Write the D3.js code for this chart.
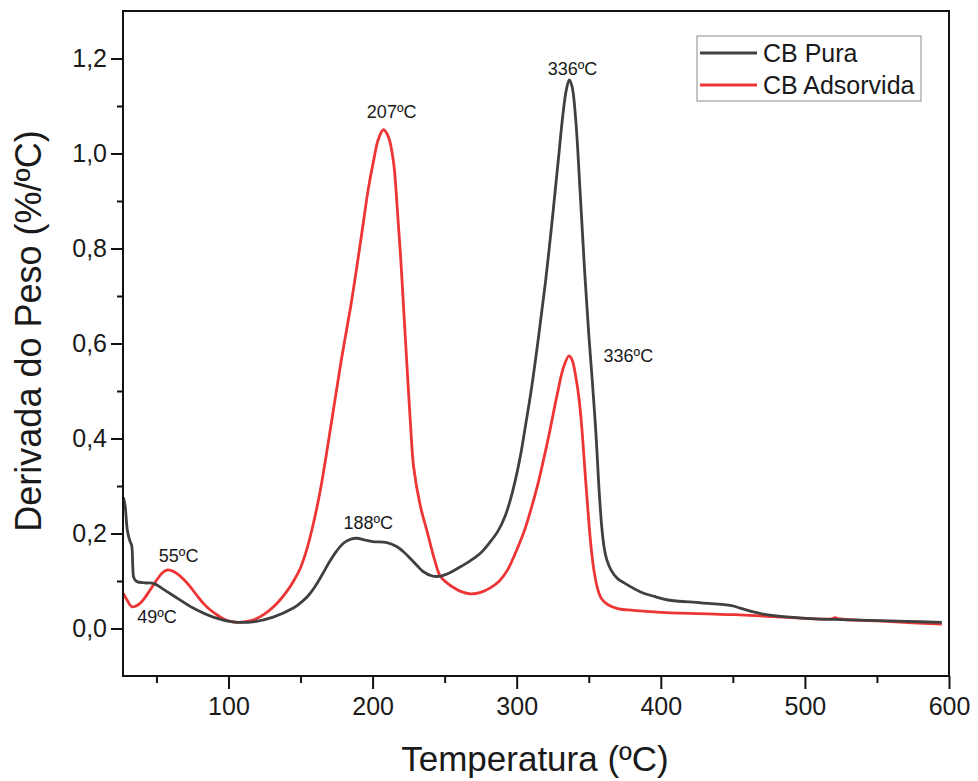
<!DOCTYPE html>
<html>
<head>
<meta charset="utf-8">
<script src="https://cdn.jsdelivr.net/npm/d3@7"></script>
<style>
  body { margin: 0; background: #fff; }
  svg text { font-family: "Liberation Sans", Arial, sans-serif; fill: #1a1a1a; }
</style>
</head>
<body>
<div id="chart"></div>
<script>
//Data
const tempPura = [27, 28.2, 29.8, 31.5, 32.8, 33.6, 34.2, 36.3, 42, 48, 54.6, 64.4, 75.5, 89.4, 103, 117, 131, 145, 150, 155, 160, 165, 170, 175, 180, 185, 189, 195, 200, 210, 217, 222, 226, 231, 235, 242, 248, 254, 261, 268, 275, 281, 287, 292, 296, 300, 303, 306, 310, 315, 320, 325, 329, 332, 334.5, 336.5, 338.5, 341, 344, 347, 350, 352.5, 355, 357, 359, 360.6, 362.5, 365.5, 370, 374.5, 386, 395, 405, 428, 449, 455, 462.8, 470, 478.8, 497.6, 520, 544, 570, 595];
const derivPura = [0.276, 0.26, 0.207, 0.185, 0.175, 0.13, 0.108, 0.099, 0.096, 0.095, 0.083, 0.064, 0.043, 0.024, 0.014, 0.014, 0.024, 0.043, 0.054, 0.068, 0.088, 0.113, 0.14, 0.163, 0.18, 0.188, 0.19, 0.186, 0.183, 0.181, 0.172, 0.16, 0.148, 0.132, 0.12, 0.11, 0.111, 0.118, 0.13, 0.143, 0.159, 0.18, 0.205, 0.237, 0.275, 0.325, 0.37, 0.425, 0.5, 0.61, 0.73, 0.87, 0.99, 1.08, 1.135, 1.155, 1.14, 1.07, 0.92, 0.76, 0.62, 0.52, 0.41, 0.3, 0.215, 0.172, 0.145, 0.123, 0.105, 0.096, 0.077, 0.068, 0.06, 0.054, 0.048, 0.043, 0.036, 0.031, 0.027, 0.022, 0.019, 0.017, 0.015, 0.013];

const tempAds = [27, 30, 32.8, 35.5, 38.6, 42, 45.6, 50.2, 54, 57.2, 60.5, 64.1, 69, 73.4, 78, 82.6, 87, 91.9, 96, 101.2, 107, 112.8, 118, 122.1, 128, 133.7, 140, 145.2, 150, 154.5, 159, 163.8, 168, 172.8, 178, 184.7, 189, 193.7, 197, 200.7, 204, 207.5, 211, 214.6, 217, 219.4, 222, 224.3, 226.5, 228.5, 233, 238.2, 243, 247, 252, 256.3, 262, 268, 275, 282, 288, 293.8, 299, 305, 310, 314.7, 321.6, 328.6, 332.5, 336.3, 338.5, 341, 343, 345, 348, 351.6, 354, 356.4, 359, 363.4, 370, 377, 386, 400, 451, 497.6, 518, 521, 524, 550, 575, 595];
const derivAds = [0.074, 0.058, 0.046, 0.047, 0.053, 0.065, 0.081, 0.102, 0.117, 0.123, 0.122, 0.116, 0.103, 0.088, 0.07, 0.053, 0.04, 0.029, 0.021, 0.015, 0.013, 0.015, 0.019, 0.025, 0.037, 0.053, 0.076, 0.1, 0.128, 0.168, 0.222, 0.292, 0.368, 0.46, 0.56, 0.676, 0.76, 0.857, 0.925, 0.985, 1.03, 1.05, 1.035, 0.98, 0.89, 0.785, 0.65, 0.53, 0.42, 0.34, 0.26, 0.2, 0.145, 0.11, 0.095, 0.086, 0.077, 0.073, 0.076, 0.086, 0.1, 0.124, 0.158, 0.203, 0.252, 0.304, 0.396, 0.5, 0.55, 0.574, 0.565, 0.53, 0.49, 0.43, 0.306, 0.172, 0.115, 0.081, 0.062, 0.05, 0.042, 0.039, 0.037, 0.034, 0.029, 0.022, 0.02, 0.023, 0.02, 0.016, 0.012, 0.009];

const seriesNames = ["CB Pura", "CB Adsorvida"];
const seriesColors = ["#404040", "#ee3535"];

//Peak labels: temperature, value and text
const peakTemps = [336, 207, 336, 188, 55, 49];
const peakValues = [1.155, 1.05, 0.575, 0.19, 0.123, 0.046];
const peakTexts = ["336ºC", "207ºC", "336ºC", "188ºC", "55ºC", "49ºC"];

const xMajor = [100, 200, 300, 400, 500, 600];
const xMinor = [50, 150, 250, 350, 450, 550];
const yMajor = [0, 0.2, 0.4, 0.6, 0.8, 1.0, 1.2];
const yMinor = [0.1, 0.3, 0.5, 0.7, 0.9, 1.1];

//Size of the svg
const width = 978;
const height = 781;
const margin = {top: 11, right: 29, bottom: 105, left: 123};
const innerW = width - margin.left - margin.right;
const innerH = height - margin.top - margin.bottom;

const svg = d3.select("#chart").append("svg")
  .attr("width", width)
  .attr("height", height);

const g = svg.append("g")
  .attr("transform", `translate(${margin.left},${margin.top})`);

//Scales setup
const xscale = d3.scaleLinear().domain([26.8, 600]).range([0, innerW]);
const yscale = d3.scaleLinear().domain([-0.1, 1.3]).range([innerH, 0]);

//Axes (major + minor ticks, outward)
const xaxis = d3.axisBottom(xscale).tickValues(xMajor).tickSize(13).tickPadding(8).tickFormat(d3.format("d"));
const xaxisMinor = d3.axisBottom(xscale).tickValues(xMinor).tickSize(7).tickFormat("");
const yaxis = d3.axisLeft(yscale).tickValues(yMajor).tickSize(12).tickPadding(4)
  .tickFormat(d => d3.format(".1f")(d).replace(".", ","));
const yaxisMinor = d3.axisLeft(yscale).tickValues(yMinor).tickSize(6).tickFormat("");

function styleAxis(sel) {
  sel.select(".domain").remove();
  sel.selectAll("line").attr("stroke", "#111").attr("stroke-width", 2);
  sel.selectAll("text").style("font-size", "25px").attr("fill", "#1a1a1a");
}

g.append("g").attr("transform", `translate(0,${innerH})`).call(xaxis).call(styleAxis);
g.append("g").attr("transform", `translate(0,${innerH})`).call(xaxisMinor).call(styleAxis);
g.append("g").call(yaxis).call(styleAxis);
g.append("g").call(yaxisMinor).call(styleAxis);

//Clip so lines stay inside the frame
g.append("clipPath").attr("id", "plotClip")
  .append("rect").attr("width", innerW).attr("height", innerH);

const line = d3.line()
  .x(d => xscale(d[0]))
  .y(d => yscale(d[1]))
  .curve(d3.curveCatmullRom.alpha(0.5));

const seriesData = [
  d3.zip(tempPura, derivPura),
  d3.zip(tempAds, derivAds)
];

//Red drawn first, gray on top
g.append("g").attr("clip-path", "url(#plotClip)")
  .selectAll("path")
  .data([1, 0])
  .join("path")
    .attr("d", i => line(seriesData[i]))
    .attr("fill", "none")
    .attr("stroke", i => seriesColors[i])
    .attr("stroke-width", 2.8)
    .attr("stroke-linejoin", "round");

//Frame
g.append("rect")
  .attr("width", innerW)
  .attr("height", innerH)
  .attr("fill", "none")
  .attr("stroke", "#111")
  .attr("stroke-width", 2);

//Peak annotations (pixel offsets from the peak point)
const labelDx = [4, 9, 35, 13, 15, 2];
const labelDy = [-5, -12, 7, -9, -8, 16];
const labelAnchor = ["middle", "middle", "start", "middle", "middle", "middle"];
g.selectAll(".peakLabel")
  .data(peakTexts)
  .join("text")
    .attr("class", "peakLabel")
    .attr("x", (d, i) => xscale(peakTemps[i]) + labelDx[i])
    .attr("y", (d, i) => yscale(peakValues[i]) + labelDy[i])
    .attr("text-anchor", (d, i) => labelAnchor[i])
    .style("font-size", "18px")
    .text(d => d);

//Legend
const legend = svg.append("g").attr("transform", "translate(697,36)");
legend.append("rect")
  .attr("width", 224).attr("height", 65)
  .attr("fill", "#fff").attr("stroke", "#8a8a8a").attr("stroke-width", 1);
seriesNames.forEach((name, i) => {
  legend.append("line")
    .attr("x1", 3).attr("x2", 60)
    .attr("y1", 17 + i * 32).attr("y2", 17 + i * 32)
    .attr("stroke", seriesColors[i]).attr("stroke-width", 2.8);
  legend.append("text")
    .attr("x", 66).attr("y", 26 + i * 32)
    .style("font-size", "25px")
    .text(name);
});

//Axis titles
svg.append("text")
  .attr("x", margin.left + innerW / 2 - 1)
  .attr("y", 771)
  .attr("text-anchor", "middle")
  .style("font-size", "35px")
  .text("Temperatura (ºC)");

svg.append("text")
  .attr("transform", `translate(41,${margin.top + 320}) rotate(-90)`)
  .attr("text-anchor", "middle")
  .style("font-size", "36px")
  .text("Derivada do Peso (%/ºC)");
</script>
</body>
</html>
